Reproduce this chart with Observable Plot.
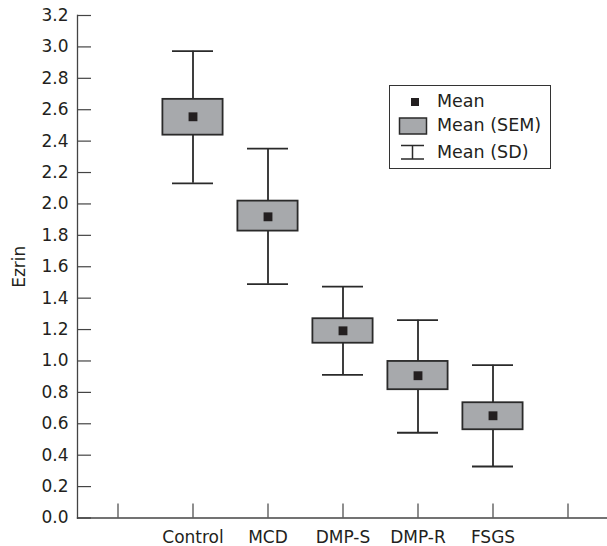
<!DOCTYPE html>
<html><head><meta charset="utf-8">
<script src="https://cdn.jsdelivr.net/npm/d3@7"></script>
<script src="https://cdn.jsdelivr.net/npm/@observablehq/plot@0.6"></script>
<style>
body{margin:0;background:#fff;}
#wrap{position:relative;width:607px;height:546px;font-family:"DejaVu Sans";color:#231f20;}
#legend{position:absolute;left:389px;top:85px;width:162px;height:84px;border:1.5px solid #333;box-sizing:border-box;background:#fff;}
#legend .row{position:absolute;left:0;width:100%;height:24px;}
#legend svg{position:absolute;left:0;top:0;}
#legend span{position:absolute;left:47px;top:50%;transform:translateY(-50%);font-size:17.5px;white-space:nowrap;line-height:1;}
</style></head><body><div id="wrap"></div>
<script>
const groups = ["Control", "MCD", "DMP-S", "DMP-R", "FSGS"];
const means  = [2.555, 1.918, 1.192, 0.906, 0.651];
const semLow = [2.438, 1.827, 1.113, 0.817, 0.562];
const semHigh= [2.666, 2.018, 1.269, 0.997, 0.734];
const sdLow  = [2.131, 1.489, 0.912, 0.543, 0.328];
const sdHigh = [2.973, 2.352, 1.474, 1.260, 0.973];
const slots  = [" ", "Control", "MCD", "DMP-S", "DMP-R", "FSGS", "  "];
const yTicks = [0, 0.2, 0.4, 0.6, 0.8, 1.0, 1.2, 1.4, 1.6, 1.8, 2.0, 2.2, 2.4, 2.6, 2.8, 3.0, 3.2];
const legendLabels = ["Mean", "Mean (SEM)", "Mean (SD)"];

const data = groups.map((g, i) => ({group: g, mean: means[i], semLow: semLow[i], semHigh: semHigh[i], sdLow: sdLow[i], sdHigh: sdHigh[i]}));
const ink = "#2a2a2a";
const axisInk = "#444";

const chart = Plot.plot({
  width: 607, height: 546,
  marginLeft: 77, marginRight: 0, marginTop: 15, marginBottom: 28.5,
  style: {fontFamily: "DejaVu Sans", fontSize: "17px", color: "#231f20", background: "white"},
  x: {type: "band", domain: slots, range: [77.3, 608.6], padding: 0, label: null},
  y: {domain: [0, 3.2], label: "Ezrin"},
  marks: [
    Plot.frame({anchor: "left", stroke: axisInk, strokeWidth: 1.3}),
    Plot.frame({anchor: "bottom", stroke: axisInk, strokeWidth: 1.3}),
    Plot.axisY({ticks: yTicks, tickSize: 0, tickPadding: 9, tickFormat: d => d.toFixed(1), label: "Ezrin", labelAnchor: "center", labelOffset: 65, labelArrow: "none"}),
    Plot.axisY({ticks: yTicks, tickSize: -14, tickFormat: () => "", label: null, stroke: axisInk, strokeWidth: 1.2}),
    Plot.axisX({tickSize: 0, tickPadding: 13, label: null}),
    Plot.axisX({tickSize: -14, tickFormat: () => "", label: null, stroke: axisInk, strokeWidth: 1.2}),
    Plot.ruleX(data, {x: "group", y1: "sdLow", y2: "sdHigh", stroke: ink, strokeWidth: 1.8}),
    Plot.tickY(data, {x: "group", y: "sdLow", insetLeft: 17, insetRight: 17, stroke: ink, strokeWidth: 1.8}),
    Plot.tickY(data, {x: "group", y: "sdHigh", insetLeft: 17, insetRight: 17, stroke: ink, strokeWidth: 1.8}),
    Plot.barY(data, {x: "group", y1: "semLow", y2: "semHigh", insetLeft: 7.4, insetRight: 7.4, fill: "#a7a9ac", stroke: ink, strokeWidth: 1.8}),
    Plot.dot(data, {x: "group", y: "mean", symbol: "square", r: 5, fill: "#231f20", stroke: "none"})
  ]
});
const wrap = document.getElementById("wrap");
wrap.appendChild(chart);

const legend = document.createElement("div");
legend.id = "legend";
const icons = [
  `<svg width="46" height="24"><rect x="21" y="8" width="8" height="8" fill="#231f20"/></svg>`,
  `<svg width="46" height="24"><rect x="9.5" y="4" width="27" height="16" fill="#a7a9ac" stroke="${ink}" stroke-width="1.5"/></svg>`,
  `<svg width="46" height="24"><path d="M11,4.5H34M22.5,4.5V18M11,18H34" stroke="${ink}" stroke-width="1.5" fill="none"/></svg>`
];
const rowTops = [4, 28, 55];
legendLabels.forEach((t, i) => {
  const r = document.createElement("div");
  r.className = "row";
  r.style.top = rowTops[i] + "px";
  r.innerHTML = icons[i] + `<span>${t}</span>`;
  legend.appendChild(r);
});
wrap.appendChild(legend);
</script>
</body></html>
